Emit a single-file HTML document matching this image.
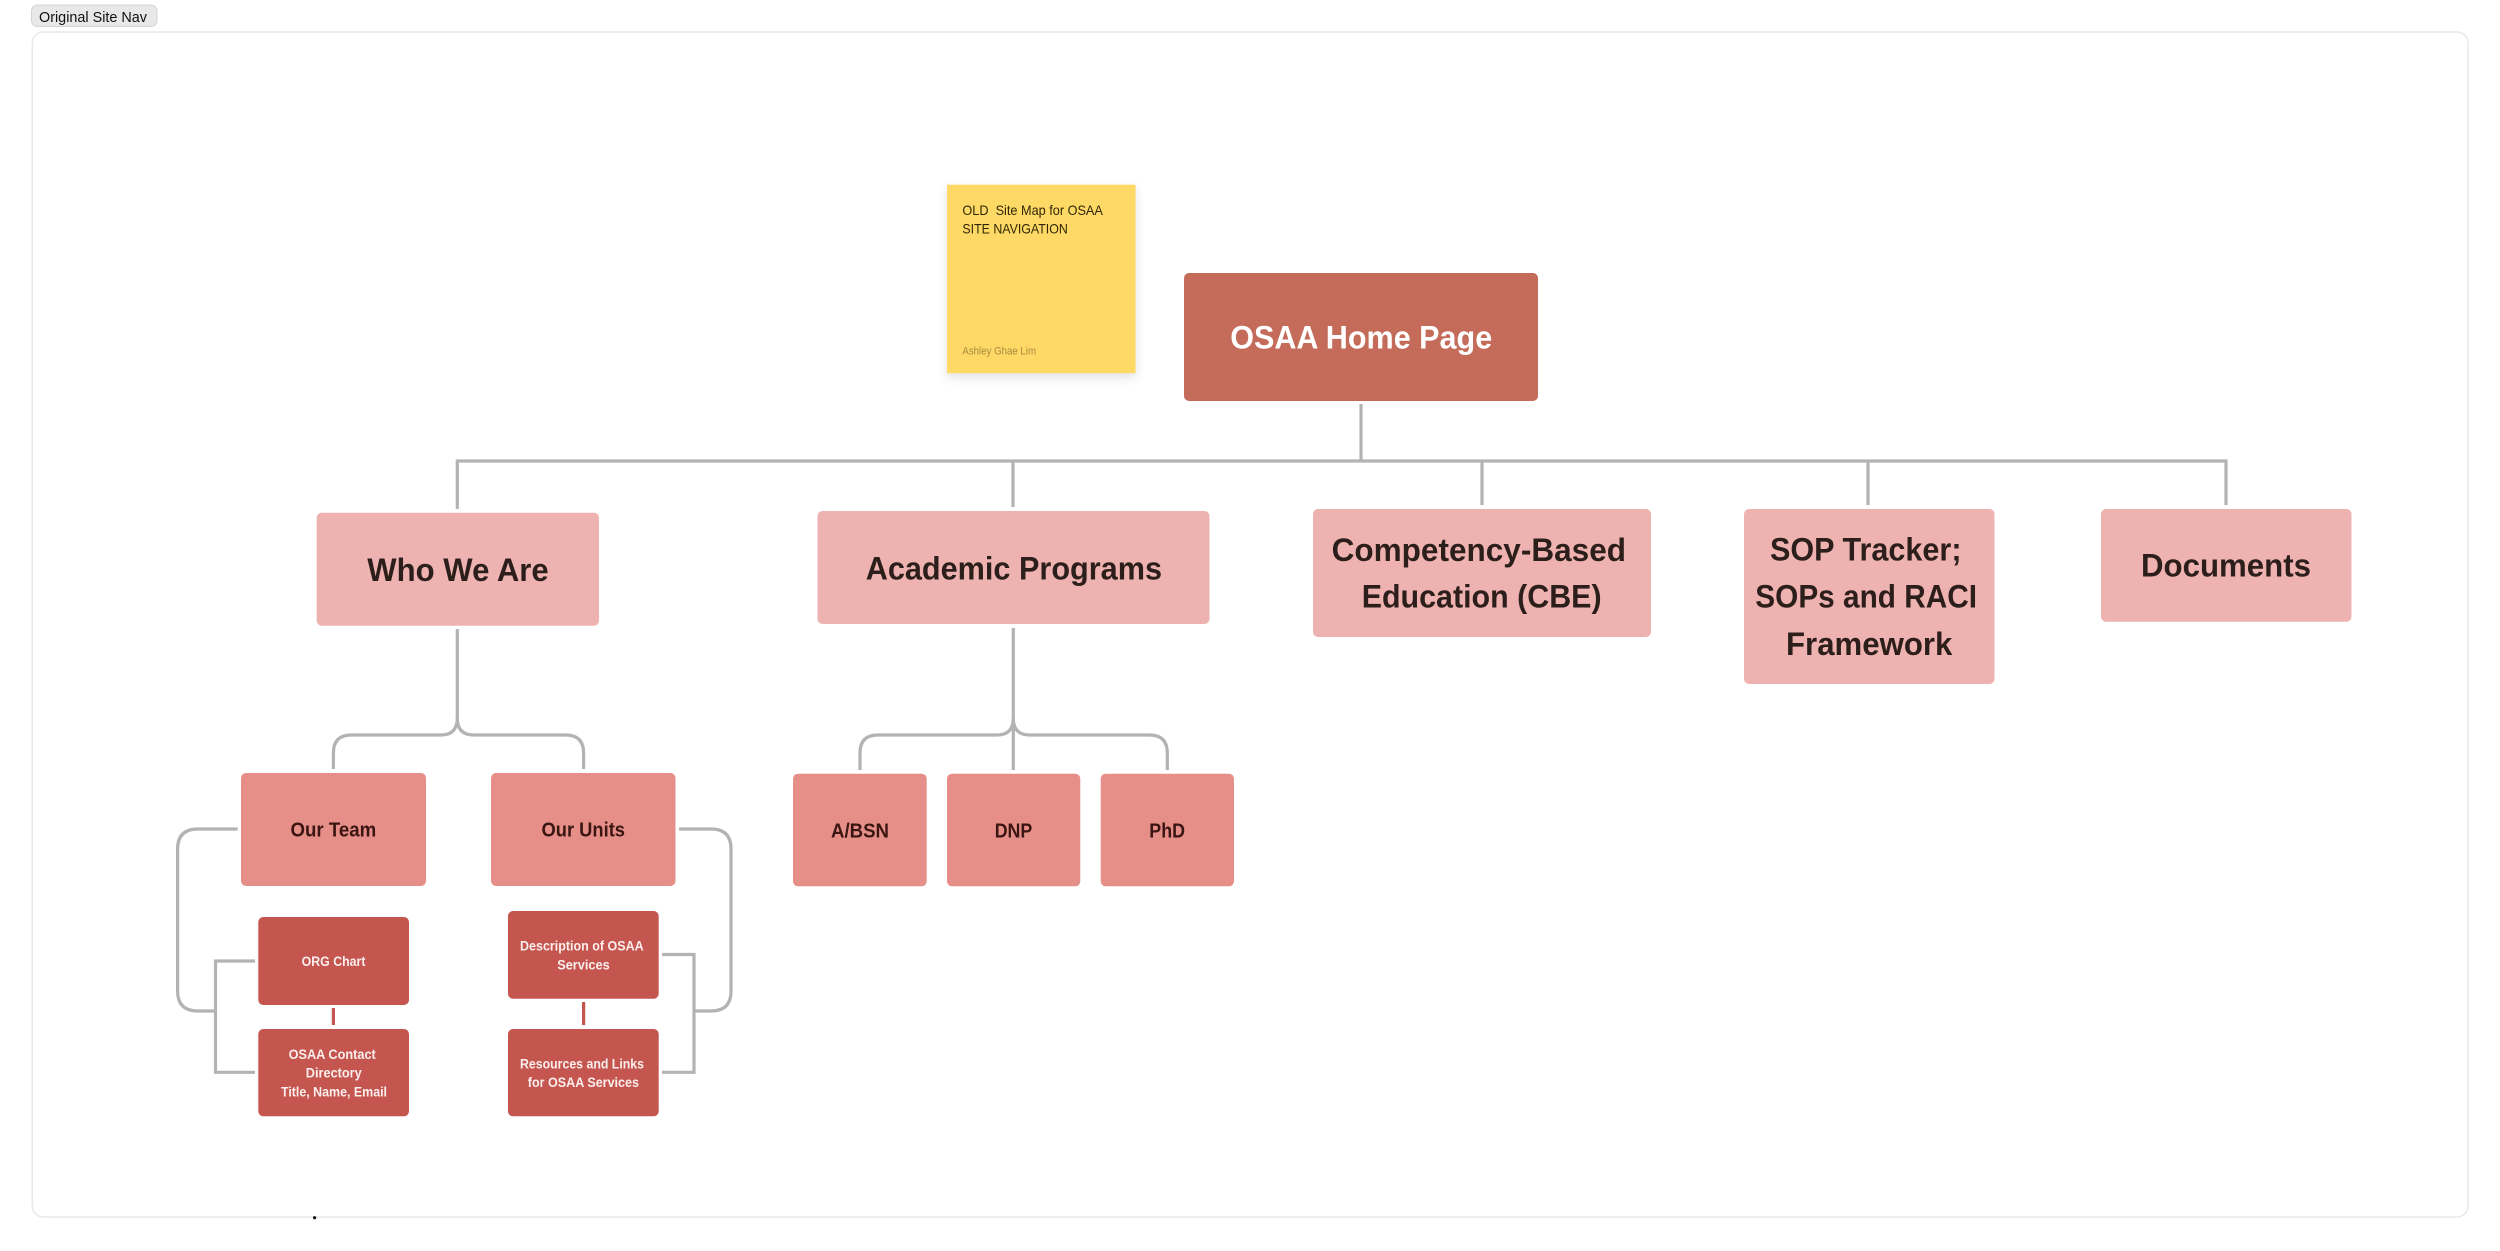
<!DOCTYPE html>
<html lang="en">
<head>
<meta charset="utf-8">
<title>Original Site Nav</title>
<style>
html,body{margin:0;padding:0;background:#fff;width:2500px;height:1251px;overflow:hidden}
svg{display:block}
text{font-family:"Liberation Sans",sans-serif}
.l{font-weight:700;font-size:32px;fill:#2c1e1b}
.m{font-weight:700;font-size:20px;fill:#3a1512}
.s{font-weight:700;font-size:14px;fill:#fbeeec}
.c{fill:none;stroke:#b3b3b3;stroke-width:3.2}
</style>
</head>
<body>
<svg width="2500" height="1251" viewBox="0 0 2500 1251" xmlns="http://www.w3.org/2000/svg">
<rect x="32.3" y="32" width="2435.7" height="1185" rx="11" fill="#fff" stroke="#e9e9e9" stroke-width="1.5"/>
<rect x="31.5" y="5" width="125.5" height="21.5" rx="6" fill="#e8e8e8" stroke="#d4d4d4" stroke-width="1"/>
<text x="39" y="22" font-size="15" fill="#111" textLength="108" lengthAdjust="spacingAndGlyphs">Original Site Nav</text>
<circle cx="314.6" cy="1217.7" r="1.6" fill="#111"/>

<rect x="947" y="184.7" width="188.5" height="188.5" fill="#ffd966" style="filter:drop-shadow(0 4px 5px rgba(0,0,0,.12))"/>
<text x="962.4" y="215" font-size="14" fill="#2e2606" textLength="140.5" lengthAdjust="spacingAndGlyphs">OLD&#160; Site Map for OSAA</text>
<text x="962.4" y="233.7" font-size="14" fill="#2e2606" textLength="105.4" lengthAdjust="spacingAndGlyphs">SITE NAVIGATION</text>
<text x="962.4" y="354.3" font-size="11" fill="#a58a3e" textLength="73.6" lengthAdjust="spacingAndGlyphs">Ashley Ghae Lim</text>

<path class="c" d="M1361 404V461"/>
<path class="c" d="M457.3 509V461H2226V505"/>
<path class="c" d="M1013 461V507M1482 461V505M1868 461V505"/>
<path class="c" d="M457.3 629V718Q457.3 735 441 735H351.4Q333.4 735 333.4 753V769"/>
<path class="c" d="M457.3 718Q457.3 735 473.6 735H565.6Q583.6 735 583.6 753V769"/>
<path class="c" d="M1013.3 628V770"/>
<path class="c" d="M1013.3 718Q1013.3 735 997 735H878Q860 735 860 753V770"/>
<path class="c" d="M1013.3 718Q1013.3 735 1029.6 735H1149.3Q1167.3 735 1167.3 753V770"/>
<path class="c" d="M237.7 829H198Q177.6 829 177.6 849V991Q177.6 1011 198 1011H215.5"/>
<path class="c" d="M255 961H215.5V1072.3H255"/>
<path class="c" d="M679 829H711Q731 829 731 849V991Q731 1011 711 1011H694"/>
<path class="c" d="M662 954.5H694V1072.3H662"/>
<path d="M333.4 1008V1025M583.6 1002V1025" fill="none" stroke="#c4564f" stroke-width="3.2"/>

<rect x="1184" y="273" width="354" height="128" rx="5" fill="#c46b5a"/>
<text x="1230.2" y="348.3" font-size="32" font-weight="700" fill="#fff" textLength="262" lengthAdjust="spacingAndGlyphs">OSAA Home Page</text>

<g fill="#eeb3b0">
<rect x="316.7" y="512.7" width="282.3" height="113" rx="5"/>
<rect x="817.5" y="511" width="392" height="113" rx="5"/>
<rect x="1313" y="509" width="338" height="128" rx="5"/>
<rect x="1744" y="509" width="250.5" height="175" rx="5"/>
<rect x="2101" y="509" width="250.5" height="112.7" rx="5"/>
</g>
<text class="l" x="367.3" y="581" textLength="181.4" lengthAdjust="spacingAndGlyphs">Who We Are</text>
<text class="l" x="865.7" y="579.3" textLength="296.3" lengthAdjust="spacingAndGlyphs">Academic Programs</text>
<text class="l" x="1331.6" y="561" textLength="294.4" lengthAdjust="spacingAndGlyphs">Competency-Based</text>
<text class="l" x="1361.7" y="607.7" textLength="239.9" lengthAdjust="spacingAndGlyphs">Education (CBE)</text>
<text class="l" x="1770" y="560.3" textLength="191.5" lengthAdjust="spacingAndGlyphs">SOP Tracker;</text>
<text class="l" x="1755.3" y="607.7" textLength="221.7" lengthAdjust="spacingAndGlyphs">SOPs and RACI</text>
<text class="l" x="1786" y="655" textLength="166.4" lengthAdjust="spacingAndGlyphs">Framework</text>
<text class="l" x="2141" y="576.3" textLength="170" lengthAdjust="spacingAndGlyphs">Documents</text>

<g fill="#e68f88">
<rect x="241" y="773" width="185" height="113" rx="5"/>
<rect x="491" y="773" width="184.5" height="113" rx="5"/>
<rect x="793" y="773.7" width="133.7" height="112.6" rx="5"/>
<rect x="947" y="773.7" width="133.3" height="112.6" rx="5"/>
<rect x="1100.7" y="773.7" width="133.3" height="112.6" rx="5"/>
</g>
<text class="m" x="290.5" y="836.7" textLength="85.7" lengthAdjust="spacingAndGlyphs">Our Team</text>
<text class="m" x="541.5" y="836.7" textLength="83.5" lengthAdjust="spacingAndGlyphs">Our Units</text>
<text class="m" x="831" y="837.3" textLength="58" lengthAdjust="spacingAndGlyphs">A/BSN</text>
<text class="m" x="994.7" y="837.3" textLength="37.6" lengthAdjust="spacingAndGlyphs">DNP</text>
<text class="m" x="1149.3" y="837.3" textLength="35.7" lengthAdjust="spacingAndGlyphs">PhD</text>

<g fill="#c4564f">
<rect x="258.3" y="917" width="150.7" height="88" rx="5"/>
<rect x="258.3" y="1029" width="150.7" height="87.3" rx="5"/>
<rect x="508" y="911" width="150.7" height="87.7" rx="5"/>
<rect x="508" y="1029" width="150.7" height="87.3" rx="5"/>
</g>
<text class="s" x="301.6" y="966" textLength="63.9" lengthAdjust="spacingAndGlyphs">ORG Chart</text>
<text class="s" x="288.6" y="1059" textLength="87.2" lengthAdjust="spacingAndGlyphs">OSAA Contact</text>
<text class="s" x="305.8" y="1077.5" textLength="55.9" lengthAdjust="spacingAndGlyphs">Directory</text>
<text class="s" x="281" y="1096.3" textLength="106" lengthAdjust="spacingAndGlyphs">Title, Name, Email</text>
<text class="s" x="520" y="950.3" textLength="123.7" lengthAdjust="spacingAndGlyphs">Description of OSAA</text>
<text class="s" x="557.2" y="969.3" textLength="52.5" lengthAdjust="spacingAndGlyphs">Services</text>
<text class="s" x="520" y="1068.3" textLength="124" lengthAdjust="spacingAndGlyphs">Resources and Links</text>
<text class="s" x="527.8" y="1087" textLength="111.2" lengthAdjust="spacingAndGlyphs">for OSAA Services</text>
</svg>
</body>
</html>
